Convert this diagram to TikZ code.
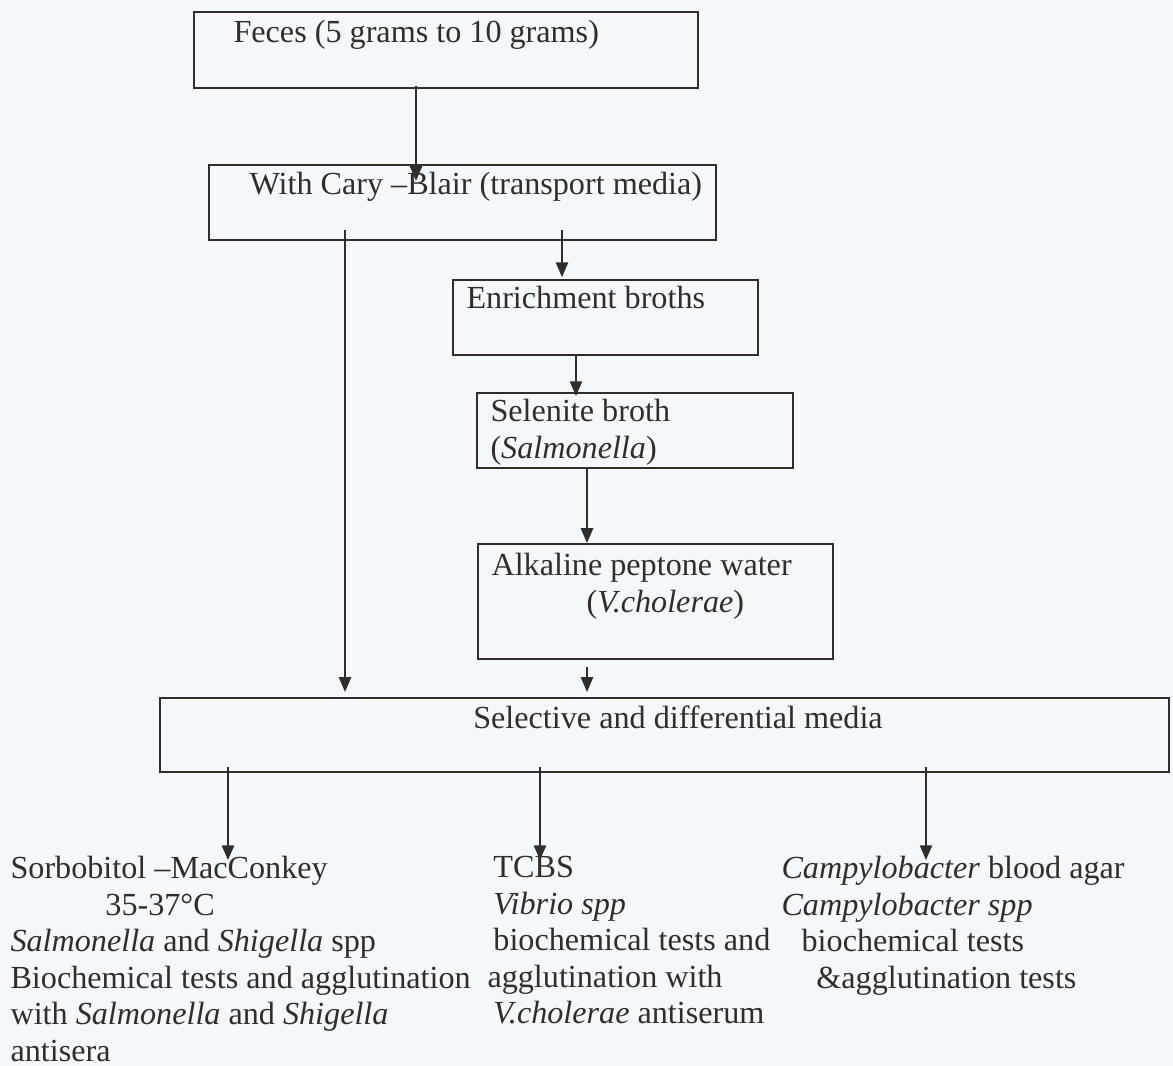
\documentclass[tikz,border=0pt]{standalone}
\usepackage{fontspec}
\setmainfont{Liberation Serif}
\usetikzlibrary{arrows.meta}
\newcommand\pxu{0.373pt}
\definecolor{ink}{HTML}{2E2E2E}
\definecolor{paper}{HTML}{F4F8FB}
\begin{document}
\begin{tikzpicture}[x=0.373pt,y=-0.373pt,
        every node/.style={font=\fontsize{12}{13.6}\selectfont,text=ink,inner sep=0},
        box/.style={draw=ink,line width=0.65pt,anchor=north west},
        txt/.style={anchor=base west},
        arr/.style={draw=ink,line width=0.6pt,-{Triangle[length=5.5pt,width=4.6pt]}}]
                \fill[paper] (0,0) rectangle (1173,1066);
                \useasboundingbox (0,0) rectangle (1173,1066);
                % boxes
                \node[box,minimum width=504*\pxu,minimum height=76*\pxu] (fec) at (193,11) {};
                \node[box,minimum width=507*\pxu,minimum height=75*\pxu] (cary) at (208,164) {};
                \node[box,minimum width=305*\pxu,minimum height=75*\pxu] (enr) at (452,279) {};
                \node[box,minimum width=316*\pxu,minimum height=75*\pxu] (sel) at (476,392) {};
                \node[box,minimum width=355*\pxu,minimum height=115*\pxu] (apw) at (477,543) {};
                \node[box,minimum width=1009*\pxu,minimum height=74*\pxu] (sdm) at (159,697) {};
                \node[txt] (fec-t) at (233,43) {Feces (5 grams to 10 grams)};
                \node[txt] (cary-t) at (249,195) {With Cary --Blair (transport media)};
                \node[txt] (enr-t) at (466,309) {Enrichment broths};
                \node[txt] (sel-t) at (490,422) {Selenite broth};
                \node[txt] (sel-s) at (490,459) {(\textit{Salmonella})};
                \node[txt] (apw-t) at (491,576) {Alkaline peptone water};
                \node[txt] (apw-s) at (586,613) {(\textit{V.cholerae})};
                \node[anchor=base] (sdm-t) at (678,729) {Selective and differential media};
                % results
                \node[anchor=north west,align=left] (smac) at (10,856) {Sorbobitol --MacConkey\\
                    \hspace*{35.4pt}35-37°C\\
                    \textit{Salmonella} and \textit{Shigella} spp\\
                    Biochemical tests and agglutination\\
                    with \textit{Salmonella} and \textit{Shigella}\\
                    antisera};
                \node[anchor=north west,align=left] (tcbs) at (487,856) {\hspace*{2.2pt}TCBS\\
                    \hspace*{2.2pt}\textit{Vibrio spp}\\
                    \hspace*{2.2pt}biochemical tests and\\
                    agglutination with\\
                    \hspace*{2.2pt}\textit{V.cholerae} antiserum};
                \node[anchor=north west,align=left] (camp) at (781,856) {\textit{Campylobacter} blood agar\\
                    \textit{Campylobacter spp}\\
                    \hspace*{7.5pt}biochemical tests\\
                    \hspace*{13pt}\&agglutination tests};
                % arrows
                \draw[arr,shorten <=-1.1pt,shorten >=-6.3pt] (416,0 |- fec.south) -- (416,0 |- cary.north);
                \draw[arr,shorten <=-4.1pt,shorten >=1.9pt] (345,0 |- cary.south) -- (345,0 |- sdm.north);
                \draw[arr,shorten <=-4.1pt,shorten >=0.7pt] (562,0 |- cary.south) -- (562,0 |- enr.north);
                \draw[arr,shorten >=-1.5pt] (576,0 |- enr.south) -- (576,0 |- sel.north);
                \draw[arr] (587,0 |- sel.south) -- (587,0 |- apw.north);
                \draw[arr,shorten <=2.6pt,shorten >=1.9pt] (587,0 |- apw.south) -- (587,0 |- sdm.north);
                \draw[arr,shorten <=-2.2pt,shorten >=-1.5pt] (228,0 |- sdm.south) -- (228,0 |- smac.north);
                \draw[arr,shorten <=-2.2pt,shorten >=-1.5pt] (540,0 |- sdm.south) -- (540,0 |- tcbs.north);
                \draw[arr,shorten <=-2.2pt,shorten >=-1.5pt] (926,0 |- sdm.south) -- (926,0 |- camp.north);
\end{tikzpicture}
\end{document}
